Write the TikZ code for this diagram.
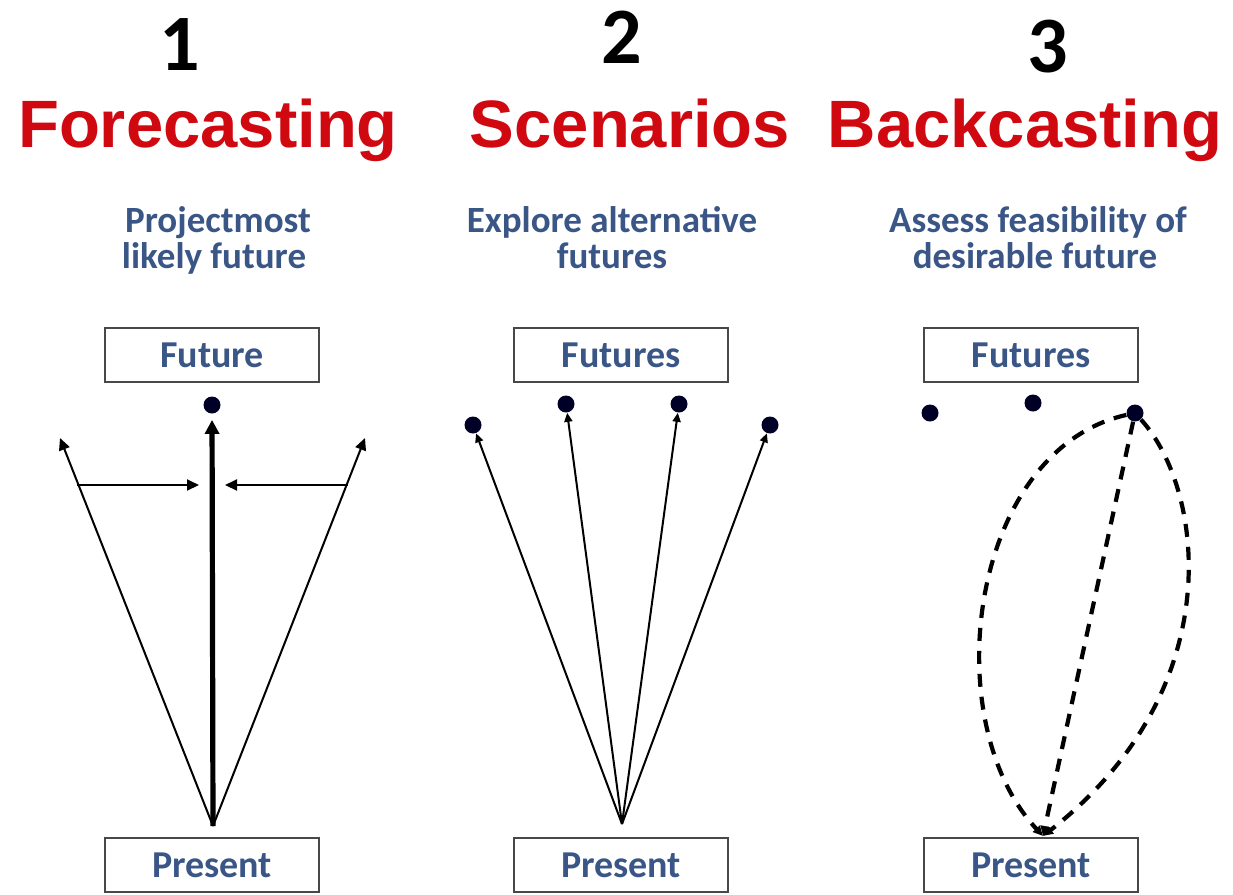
\documentclass[tikz,border=0pt]{standalone}
\usepackage{fontspec}
\setmainfont{Liberation Sans}
\newfontfamily\calib{Carlito}
\usetikzlibrary{arrows.meta}
\definecolor{titlered}{RGB}{208,8,16}
\definecolor{labelblue}{RGB}{58,86,134}
\definecolor{boxgray}{RGB}{72,72,72}
\tikzset{
  numlabel/.style={font=\calib\bfseries\fontsize{40}{40}\selectfont, anchor=base},
  methodtitle/.style={text=titlered, font=\bfseries\fontsize{33.5}{33.5}\selectfont, anchor=base},
  aimnote/.style={text=labelblue, font=\calib\bfseries\fontsize{18.5}{18.5}\selectfont, anchor=base},
  timebox/.style={draw=boxgray, line width=1.3pt, minimum width=107pt, minimum height=27pt, inner sep=0pt, text=labelblue, font=\calib\bfseries\fontsize{19}{19}\selectfont},
  fdot/.style={circle, fill=black!85!blue, inner sep=0pt, minimum size=8.5pt},
  thinarr/.style={line width=1pt, -{Triangle[length=6pt,width=5.5pt]}},
  thickarr/.style={line width=2.6pt, -{Triangle[length=7pt,width=7pt]}},
  fanarr/.style={line width=1pt, -{Triangle[length=4.5pt,width=4pt]}},
  dasharr/.style={line width=2.1pt, dash pattern=on 6.5pt off 5pt, -{Triangle[length=5pt,width=4.5pt]}}
}

\begin{document}
\begin{tikzpicture}[x=0.5pt,y=0.5pt,yscale=-1]
  \path[use as bounding box] (0,0) rectangle (1233,895);

  %Numbers and titles
  \node[numlabel] (n1) at (180,70) {1};
  \node[numlabel] (n2) at (622,63) {2};
  \node[numlabel] (n3) at (1048,72) {3};
  \node[methodtitle] (t1) at (208,147) {Forecasting};
  \node[methodtitle] (t2) at (630,147) {Scenarios};
  \node[methodtitle] (t3) at (1025,147) {Backcasting};

  %Aims
  \node[aimnote] (a1a) at (218,232) {Projectmost};
  \node[aimnote] (a1b) at (214,268) {likely future};
  \node[aimnote] (a2a) at (612,232) {Explore alternative};
  \node[aimnote] (a2b) at (612,268) {futures};
  \node[aimnote] (a3a) at (1038,232) {Assess feasibility of};
  \node[aimnote] (a3b) at (1035,268) {desirable future};

  %Boxes
  \node[timebox] (fut1) at (212,355) {Future};
  \node[timebox] (fut2) at (621,355) {Futures};
  \node[timebox] (fut3) at (1031,355) {Futures};
  \node[timebox] (pre1) at (212,865) {Present};
  \node[timebox] (pre2) at (621,865) {Present};
  \node[timebox] (pre3) at (1031,865) {Present};

  %Forecasting
  \node[fdot] (f0) at (212,405) {};
  \coordinate (o1) at (213,826);
  \coordinate (fl) at (60,438);
  \coordinate (fr) at (365,438);
  \coordinate (hl) at (77,485);
  \coordinate (hlt) at (199,485);
  \coordinate (hr) at (348,485);
  \coordinate (hrt) at (225,485);
  \draw[thickarr, shorten >=3pt] (o1) -- (f0);
  \draw[thinarr] (o1) -- (fl);
  \draw[thinarr] (o1) -- (fr);
  \draw[thinarr] (hl) -- (hlt);
  \draw[thinarr] (hr) -- (hrt);

  %Scenarios
  \coordinate (o2) at (622,824);
  \node[fdot] (s1) at (473,425) {};
  \node[fdot] (s2) at (566,404) {};
  \node[fdot] (s3) at (679,404) {};
  \node[fdot] (s4) at (770,425) {};
  \foreach \s in {s1,s2,s3,s4}
    \draw[fanarr] (o2) -- (\s);

  %Backcasting
  \node[fdot] (b1) at (930,413) {};
  \node[fdot] (b2) at (1033,403) {};
  \node[fdot] (b3) at (1135,413) {};
  \coordinate (o3) at (1043,836);
  \draw[dasharr] (b3) .. controls (970,450) and (935,720) .. (o3);
  \draw[dasharr] (b3) -- (o3);
  \draw[dasharr] (b3) .. controls (1205,490) and (1230,690) .. (o3);
\end{tikzpicture}
\end{document}
